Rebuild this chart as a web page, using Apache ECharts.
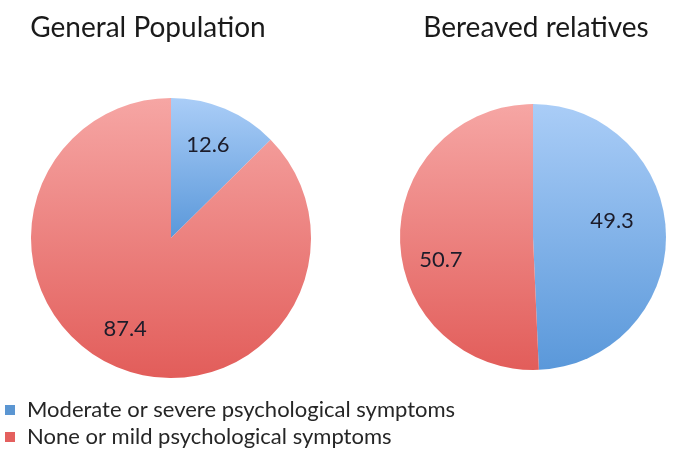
<!DOCTYPE html>
<html>
<head>
<meta charset="utf-8">
<script src="https://cdn.jsdelivr.net/npm/echarts@6/dist/echarts.min.js"></script>
<style>html,body{margin:0;padding:0;background:#fff;}#c{width:675px;height:459px;}</style>
</head>
<body>
<div id="c"></div>
<script>
const categories = ['Moderate or severe psychological symptoms', 'None or mild psychological symptoms'];
const titles = ['General Population', 'Bereaved relatives'];
const generalPopulation = [12.6, 87.4];
const bereavedRelatives = [49.3, 50.7];

const FONT = 'Lato, "Open Sans", sans-serif';
const blueGrad = {type:'linear', x:0, y:0, x2:0, y2:1, colorStops:[{offset:0, color:'#aacdf7'},{offset:1, color:'#5a98da'}]};
const redGrad = {type:'linear', x:0, y:0, x2:0, y2:1, colorStops:[{offset:0, color:'#f6a6a4'},{offset:1, color:'#e25d5a'}]};
const fills = [blueGrad, redGrad];
const flat = ['#5b96d2', '#e4605e'];

function mkData(vals){
  return vals.map((v,i)=>({name:categories[i], value:v, itemStyle:{color:fills[i]}}));
}
function mkLabelData(vals, offs){
  return vals.map((v,i)=>({name:categories[i], value:v, label:{offset:offs[i]}}));
}
const pies = [
  {vals: generalPopulation, center:[171,238], r:140, inner:0.36, offs:[[-1,-2],[-8,0]]},
  {vals: bereavedRelatives, center:[533,237], r:133, inner:0.22, offs:[[-5,-14],[-8,21]]}
];
const series = [];
pies.forEach(p=>{
  series.push({
    type:'pie', center:p.center, radius:[0,p.r], startAngle:90, clockwise:true,
    silent:true, label:{show:false}, labelLine:{show:false},
    itemStyle:{borderWidth:0}, data:mkData(p.vals), animation:false
  });
  series.push({
    type:'pie', center:p.center, radius:[p.r*p.inner,p.r], startAngle:90, clockwise:true,
    silent:true, itemStyle:{color:'rgba(0,0,0,0)', borderWidth:0},
    label:{show:true, position:'inside', formatter:(d)=>d.value.toFixed(1), fontFamily:FONT, fontSize:22, color:'#1c1c2a'},
    labelLine:{show:false}, data:mkLabelData(p.vals, p.offs), animation:false
  });
});

const chart = echarts.init(document.getElementById('c'));
chart.setOption({
  backgroundColor:'#fff',
  title:[
    {text:titles[0], left:148, top:14, padding:0, textAlign:'center', textStyle:{fontFamily:FONT, fontSize:28, fontWeight:'normal', color:'#1a1a1a'}},
    {text:titles[1], left:536, top:14, padding:0, textAlign:'center', textStyle:{fontFamily:FONT, fontSize:28, fontWeight:'normal', color:'#1a1a1a'}}
  ],
  legend:{
    orient:'vertical', left:5, top:399, padding:0, itemWidth:10, itemHeight:10, itemGap:5, icon:'rect',
    textStyle:{fontFamily:FONT, fontSize:22, color:'#262626', padding:[0,0,0,7]},
    data:categories.map((c,i)=>({name:c, itemStyle:{color:flat[i]}})),
    selectedMode:false
  },
  series:series
});
</script>
</body>
</html>
